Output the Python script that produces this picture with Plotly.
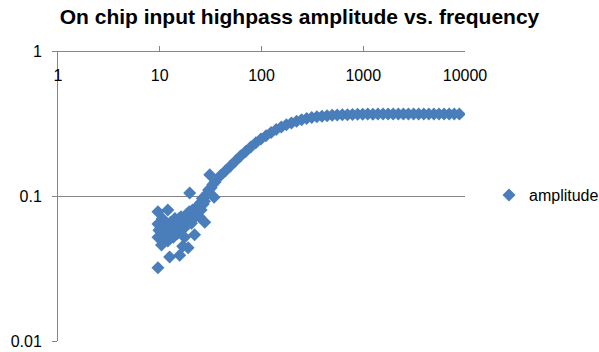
import plotly.graph_objects as go

# Low-frequency readings (noisy region, 10-35 Hz)
low_freq = [9.6, 9.6, 9.6, 9.6, 9.8, 10.2, 10.4, 10.6, 10.8, 11.0, 11.2, 11.5, 12.0,
            12.0, 12.3, 12.5, 12.8, 13.2, 13.5, 13.6, 14.1, 14.6, 14.8, 15.1, 15.5,
            15.7, 16.2, 16.5, 16.8, 17.3, 17.5, 17.9, 18.5, 18.8, 19.0, 19.5, 19.7,
            20.3, 20.5, 21.0, 21.5, 22.0, 22.6, 23.0, 23.5, 24.0, 24.5, 25.2, 25.5,
            26.2, 26.8, 27.5, 27.7, 28.2, 29.3, 30.2, 31.0, 32.0, 33.2, 34.2]
low_amp = [0.078, 0.064, 0.052, 0.032, 0.058, 0.060, 0.046, 0.070, 0.064, 0.055, 0.050,
           0.062, 0.080, 0.049, 0.058, 0.038, 0.066, 0.057, 0.064, 0.052, 0.070, 0.060,
           0.055, 0.066, 0.070, 0.039, 0.072, 0.065, 0.045, 0.060, 0.052, 0.068, 0.075,
           0.068, 0.044, 0.078, 0.105, 0.072, 0.065, 0.080, 0.070, 0.054, 0.078, 0.075,
           0.085, 0.082, 0.072, 0.090, 0.080, 0.096, 0.088, 0.092, 0.066, 0.100, 0.104,
           0.110, 0.140, 0.114, 0.120, 0.098]

# Sweep readings above 35 Hz
sweep_freq = [35, 39.3, 44.1, 49.5, 55.5, 62.3, 69.9, 78.4, 88, 98.7, 110.8, 124.3,
              139.5, 156.5, 175.6, 197, 221, 248, 278, 312, 350, 393, 441, 495, 555,
              623, 699, 784, 880, 987, 1108, 1243, 1394, 1565, 1755, 1970, 2210, 2480,
              2782, 3122, 3503, 3930, 4410, 4948, 5552, 6229, 6989, 7842, 8799]
sweep_amp = [0.125, 0.138, 0.149, 0.161, 0.174, 0.189, 0.203, 0.218, 0.233, 0.247,
             0.260, 0.274, 0.287, 0.299, 0.310, 0.319, 0.328, 0.336, 0.342, 0.348,
             0.352, 0.355, 0.358, 0.360, 0.362, 0.363, 0.364, 0.365, 0.366, 0.366,
             0.367, 0.366, 0.367, 0.368, 0.367, 0.368, 0.367, 0.368, 0.368, 0.367,
             0.368, 0.368, 0.367, 0.368, 0.368, 0.367, 0.368, 0.368, 0.367]

freq = low_freq + sweep_freq
amp = low_amp + sweep_amp

x_ticks = [1, 10, 100, 1000, 10000]
x_labels = ["1", "10", "100", "1000", "10000"]
y_ticks = [0.01, 0.1, 1]
y_labels = ["0.01", "0.1", "1"]

BLUE = "#4A7EBB"
AXIS = "#868686"
FONT = "Liberation Sans, Arial, sans-serif"

fig = go.Figure(
    go.Scatter(
        x=freq, y=amp, mode="markers", name="amplitude",
        marker=dict(symbol="diamond", size=10, color=BLUE, line=dict(width=0)),
    )
)

fig.update_layout(
    width=599, height=352,
    margin=dict(l=58, r=134, t=51, b=11, autoexpand=False),
    paper_bgcolor="white", plot_bgcolor="white",
    font=dict(family=FONT, size=16, color="#000000"),
    title=dict(
        text="<b>On chip input highpass amplitude vs. frequency</b>",
        x=0.5, xanchor="center", y=1 - 17 / 352, yanchor="middle",
        font=dict(family=FONT, size=21, color="#000000"),
    ),
    showlegend=True,
    legend=dict(
        x=(489 - 58) / 407, xanchor="left", y=0.503, yanchor="middle",
        font=dict(family=FONT, size=16, color="#000000"),
        bgcolor="rgba(0,0,0,0)",
    ),
)

fig.update_xaxes(
    type="log", range=[0, 4],
    tickvals=x_ticks, ticktext=x_labels,
    side="bottom", anchor="free", position=1,
    showline=True, linecolor=AXIS, linewidth=1,
    ticks="inside", ticklen=5, tickcolor=AXIS,
    ticklabelstandoff=10,
    showgrid=False, zeroline=False,
)

fig.update_yaxes(
    type="log", range=[-2, 0],
    tickvals=y_ticks, ticktext=y_labels,
    showline=True, linecolor=AXIS, linewidth=1,
    ticks="outside", ticklen=5, tickcolor=AXIS,
    ticklabelstandoff=7,
    showgrid=True, gridcolor=AXIS, gridwidth=1,
    zeroline=False,
)

fig.write_html("out.html")
